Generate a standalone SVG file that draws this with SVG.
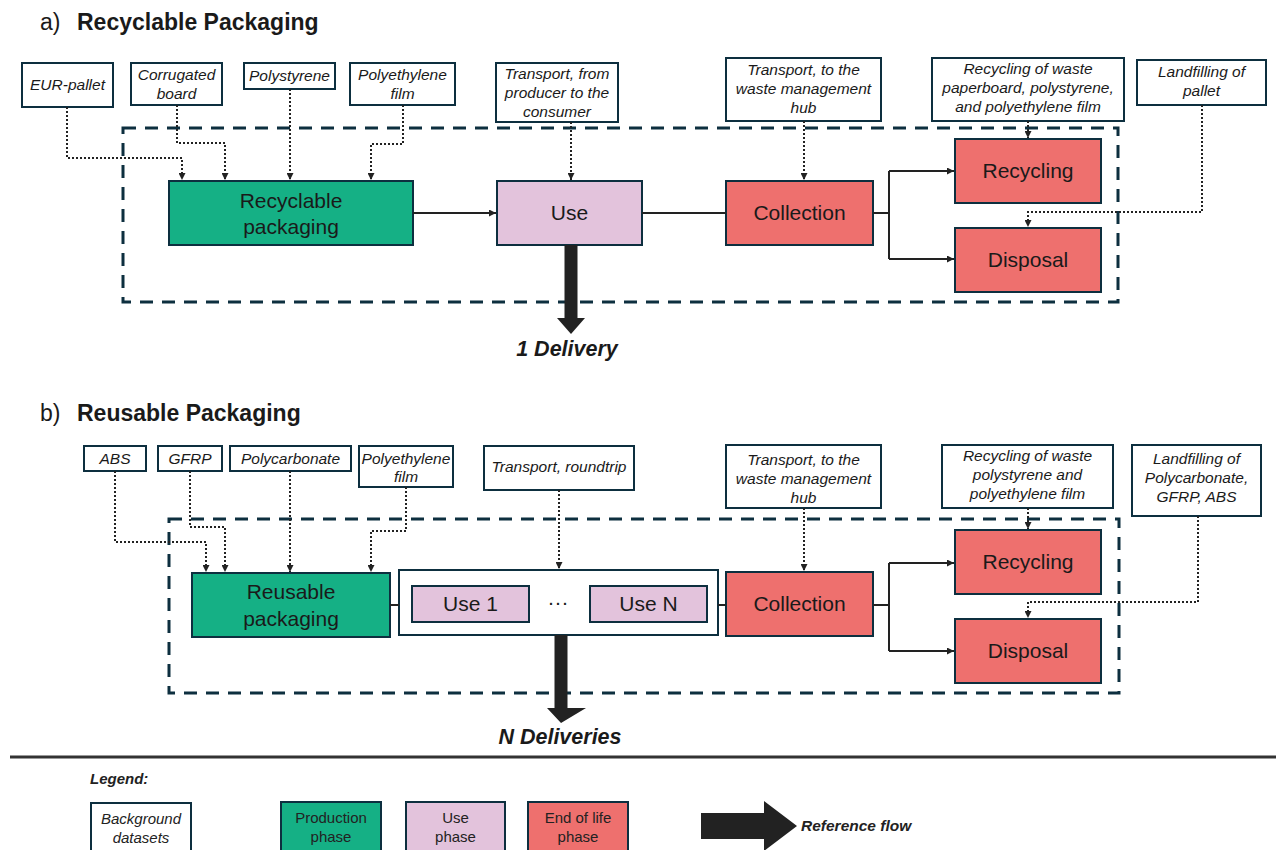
<svg xmlns="http://www.w3.org/2000/svg" width="1276" height="850" viewBox="0 0 1276 850">
<defs>
<style>
.bg{fill:#fff;stroke:#0d2f3f;stroke-width:2}
.bt{font-family:"Liberation Sans",Arial,sans-serif;font-style:italic;font-size:15.5px;fill:#1a1a1a;text-anchor:middle}
.prod{fill:#15b085;stroke:#0d2f3f;stroke-width:2}
.use{fill:#e3c3dc;stroke:#0d2f3f;stroke-width:2}
.eol{fill:#ee706e;stroke:#0d2f3f;stroke-width:2}
.nt{font-family:"Liberation Sans",Arial,sans-serif;font-size:21px;fill:#1a1a1a;text-anchor:middle}
.dash{fill:none;stroke:#0d2f3f;stroke-width:3;stroke-dasharray:13 9}
.solid{fill:none;stroke:#222;stroke-width:2}
.dot{fill:none;stroke:#222;stroke-width:2;stroke-dasharray:2 2}
.title{font-family:"Liberation Sans",Arial,sans-serif;font-size:23px;fill:#1a1a1a}
.big{fill:#222}
.lbl{font-family:"Liberation Sans",Arial,sans-serif;font-style:italic;font-weight:bold;font-size:21.5px;fill:#1a1a1a;text-anchor:middle}
.lt{font-family:"Liberation Sans",Arial,sans-serif;font-size:15px;fill:#222;text-anchor:middle}
</style>
<marker id="ah" viewBox="0 0 10 10" refX="10" refY="5" markerWidth="7" markerHeight="7" markerUnits="userSpaceOnUse" orient="auto"><path d="M0,0 L10,5 L0,10 z" fill="#222"/></marker>
</defs>

<!-- Titles -->
<text class="title" x="40" y="30">a)</text>
<text class="title" x="77" y="30" font-weight="bold" font-size="24">Recyclable Packaging</text>
<text class="title" x="40" y="421">b)</text>
<text class="title" x="77" y="421" font-weight="bold" font-size="24">Reusable Packaging</text>

<!-- Section a system boundary -->
<rect class="dash" x="123" y="128" width="995" height="174"/>

<!-- Section a background nodes -->
<g id="a-eur"><rect class="bg" x="22" y="63" width="91" height="44"/><text class="bt" x="67.5" y="90">EUR-pallet</text></g>
<g id="a-corr"><rect class="bg" x="131" y="63" width="91" height="42"/><text class="bt" x="176.5" y="80">Corrugated</text><text class="bt" x="176.5" y="99">board</text></g>
<g id="a-ps"><rect class="bg" x="244" y="63" width="91" height="26"/><text class="bt" x="289.5" y="81">Polystyrene</text></g>
<g id="a-pe"><rect class="bg" x="350" y="63" width="105" height="42"/><text class="bt" x="402.5" y="80">Polyethylene</text><text class="bt" x="402.5" y="99">film</text></g>
<g id="a-tr1"><rect class="bg" x="496" y="63" width="122" height="59"/><text class="bt" x="557" y="79">Transport, from</text><text class="bt" x="557" y="98">producer to the</text><text class="bt" x="557" y="117">consumer</text></g>
<g id="a-tr2"><rect class="bg" x="726" y="58" width="155" height="63"/><text class="bt" x="803.5" y="75">Transport, to the</text><text class="bt" x="803.5" y="94">waste management</text><text class="bt" x="803.5" y="113">hub</text></g>
<g id="a-rec"><rect class="bg" x="932" y="58" width="192" height="63"/><text class="bt" x="1028" y="74">Recycling of waste</text><text class="bt" x="1028" y="93">paperboard, polystyrene,</text><text class="bt" x="1028" y="112">and polyethylene film</text></g>
<g id="a-land"><rect class="bg" x="1137" y="60" width="129" height="45"/><text class="bt" x="1201.5" y="77">Landfilling of</text><text class="bt" x="1201.5" y="96">pallet</text></g>

<!-- Section a process nodes -->
<g id="a-pack"><rect class="prod" x="169" y="181" width="244" height="64"/><text class="nt" x="291" y="208">Recyclable</text><text class="nt" x="291" y="234">packaging</text></g>
<g id="a-use"><rect class="use" x="497" y="181" width="145" height="64"/><text class="nt" x="569.5" y="220">Use</text></g>
<g id="a-coll"><rect class="eol" x="726" y="181" width="147" height="64"/><text class="nt" x="799.5" y="220">Collection</text></g>
<g id="a-recy"><rect class="eol" x="955" y="139" width="146" height="64"/><text class="nt" x="1028" y="178">Recycling</text></g>
<g id="a-disp"><rect class="eol" x="955" y="228" width="146" height="64"/><text class="nt" x="1028" y="267">Disposal</text></g>

<!-- Section b system boundary -->
<rect class="dash" x="169" y="519" width="950" height="174"/>

<!-- Section b background nodes -->
<g id="b-abs"><rect class="bg" x="84" y="446" width="62" height="25"/><text class="bt" x="115" y="464">ABS</text></g>
<g id="b-gfrp"><rect class="bg" x="158" y="446" width="64" height="25"/><text class="bt" x="190" y="464">GFRP</text></g>
<g id="b-pc"><rect class="bg" x="230" y="446" width="121" height="25"/><text class="bt" x="290.5" y="464">Polycarbonate</text></g>
<g id="b-pe"><rect class="bg" x="359" y="446" width="94" height="41"/><text class="bt" x="406" y="464">Polyethylene</text><text class="bt" x="406" y="482">film</text></g>
<g id="b-tr1"><rect class="bg" x="484" y="446" width="150" height="44"/><text class="bt" x="559" y="472">Transport, roundtrip</text></g>
<g id="b-tr2"><rect class="bg" x="726" y="445" width="155" height="63"/><text class="bt" x="803.5" y="465">Transport, to the</text><text class="bt" x="803.5" y="484">waste management</text><text class="bt" x="803.5" y="503">hub</text></g>
<g id="b-rec"><rect class="bg" x="942" y="445" width="171" height="63"/><text class="bt" x="1027.5" y="461">Recycling of waste</text><text class="bt" x="1027.5" y="480">polystyrene and</text><text class="bt" x="1027.5" y="499">polyethylene film</text></g>
<g id="b-land"><rect class="bg" x="1132" y="445" width="129" height="71"/><text class="bt" x="1196.5" y="464">Landfilling of</text><text class="bt" x="1196.5" y="483">Polycarbonate,</text><text class="bt" x="1196.5" y="502">GFRP, ABS</text></g>

<!-- Section b process nodes -->
<g id="b-pack"><rect class="prod" x="192" y="573" width="198" height="64"/><text class="nt" x="291" y="599">Reusable</text><text class="nt" x="291" y="626">packaging</text></g>
<g id="b-usebox"><rect class="bg" x="399" y="570" width="319" height="65"/>
<g id="b-use1"><rect class="use" x="412" y="586" width="117" height="36"/><text class="nt" x="470.5" y="611">Use 1</text></g>
<text class="nt" x="558" y="609">···</text>
<g id="b-usen"><rect class="use" x="590" y="586" width="117" height="36"/><text class="nt" x="648.5" y="611">Use N</text></g>
</g>
<g id="b-coll"><rect class="eol" x="726" y="572" width="147" height="64"/><text class="nt" x="799.5" y="611">Collection</text></g>
<g id="b-recy"><rect class="eol" x="955" y="530" width="146" height="64"/><text class="nt" x="1028" y="569">Recycling</text></g>
<g id="b-disp"><rect class="eol" x="955" y="619" width="146" height="64"/><text class="nt" x="1028" y="658">Disposal</text></g>

<!-- Connectors -->
<g id="connectors">
<!-- a -->
<path class="solid" d="M413,213 H496" marker-end="url(#ah)"/>
<path class="solid" d="M642,213 H726"/>
<path class="solid" d="M873,213 H889"/>
<path class="solid" d="M889,171 V259"/>
<path class="solid" d="M889,171 H954" marker-end="url(#ah)"/>
<path class="solid" d="M889,259 H954" marker-end="url(#ah)"/>
<path class="dot" d="M67,107 V158 H182 V180" marker-end="url(#ah)"/>
<path class="dot" d="M177,105 V143 H225 V180" marker-end="url(#ah)"/>
<path class="dot" d="M290,89 V180" marker-end="url(#ah)"/>
<path class="dot" d="M403,105 V144 H371 V180" marker-end="url(#ah)"/>
<path class="dot" d="M571,122 V180" marker-end="url(#ah)"/>
<path class="dot" d="M804,121 V180" marker-end="url(#ah)"/>
<path class="dot" d="M1028,121 V138" marker-end="url(#ah)"/>
<path class="dot" d="M1202,105 V212 H1028 V227" marker-end="url(#ah)"/>
<!-- a reference flow -->
<path class="big" d="M564.5,245 H577.5 V318 H585 L571,334 L557,318 H564.5 Z"/>
<!-- b -->
<path class="solid" d="M390,605 H399"/>
<path class="solid" d="M718,605 H726"/>
<path class="solid" d="M873,605 H889"/>
<path class="solid" d="M889,563 V651"/>
<path class="solid" d="M889,563 H954" marker-end="url(#ah)"/>
<path class="solid" d="M889,651 H954" marker-end="url(#ah)"/>
<path class="dot" d="M115,471 V542 H206 V572" marker-end="url(#ah)"/>
<path class="dot" d="M190,471 V527 H225 V572" marker-end="url(#ah)"/>
<path class="dot" d="M290,471 V572" marker-end="url(#ah)"/>
<path class="dot" d="M406,487 V531 H371 V572" marker-end="url(#ah)"/>
<path class="dot" d="M559,490 V569" marker-end="url(#ah)"/>
<path class="dot" d="M804,508 V571" marker-end="url(#ah)"/>
<path class="dot" d="M1028,508 V529" marker-end="url(#ah)"/>
<path class="dot" d="M1198,516 V602 H1028 V618" marker-end="url(#ah)"/>
<!-- b reference flow -->
<path class="big" d="M554.5,635 H567.5 V708 H586 L561,723 L547,708 H554.5 Z"/>
</g>

<text class="lbl" x="567" y="356">1 Delivery</text>
<text class="lbl" x="560" y="744">N Deliveries</text>

<!-- Divider -->
<line x1="10" y1="757" x2="1276" y2="757" stroke="#333" stroke-width="3"/>

<!-- Legend -->
<g id="legend">
<text x="90" y="784" font-family="Liberation Sans, Arial, sans-serif" font-size="15" font-style="italic" font-weight="bold" fill="#222">Legend:</text>
<g id="lg-bg"><rect class="bg" x="91" y="803" width="100" height="52"/><text class="lt" x="141" y="824" font-style="italic">Background</text><text class="lt" x="141" y="843" font-style="italic">datasets</text></g>
<g id="lg-prod"><rect class="prod" x="281" y="802" width="100" height="53"/><text class="lt" x="331" y="823">Production</text><text class="lt" x="331" y="842">phase</text></g>
<g id="lg-use"><rect class="use" x="406" y="802" width="99" height="53"/><text class="lt" x="455.5" y="823">Use</text><text class="lt" x="455.5" y="842">phase</text></g>
<g id="lg-eol"><rect class="eol" x="528" y="802" width="100" height="53"/><text class="lt" x="578" y="823">End of life</text><text class="lt" x="578" y="842">phase</text></g>
<path class="big" d="M701,813 H764 V801 L797,826 L764,851 V839 H701 Z"/>
<text x="801" y="831" font-family="Liberation Sans, Arial, sans-serif" font-size="15.5" font-style="italic" font-weight="bold" fill="#222">Reference flow</text>
</g>
</svg>
